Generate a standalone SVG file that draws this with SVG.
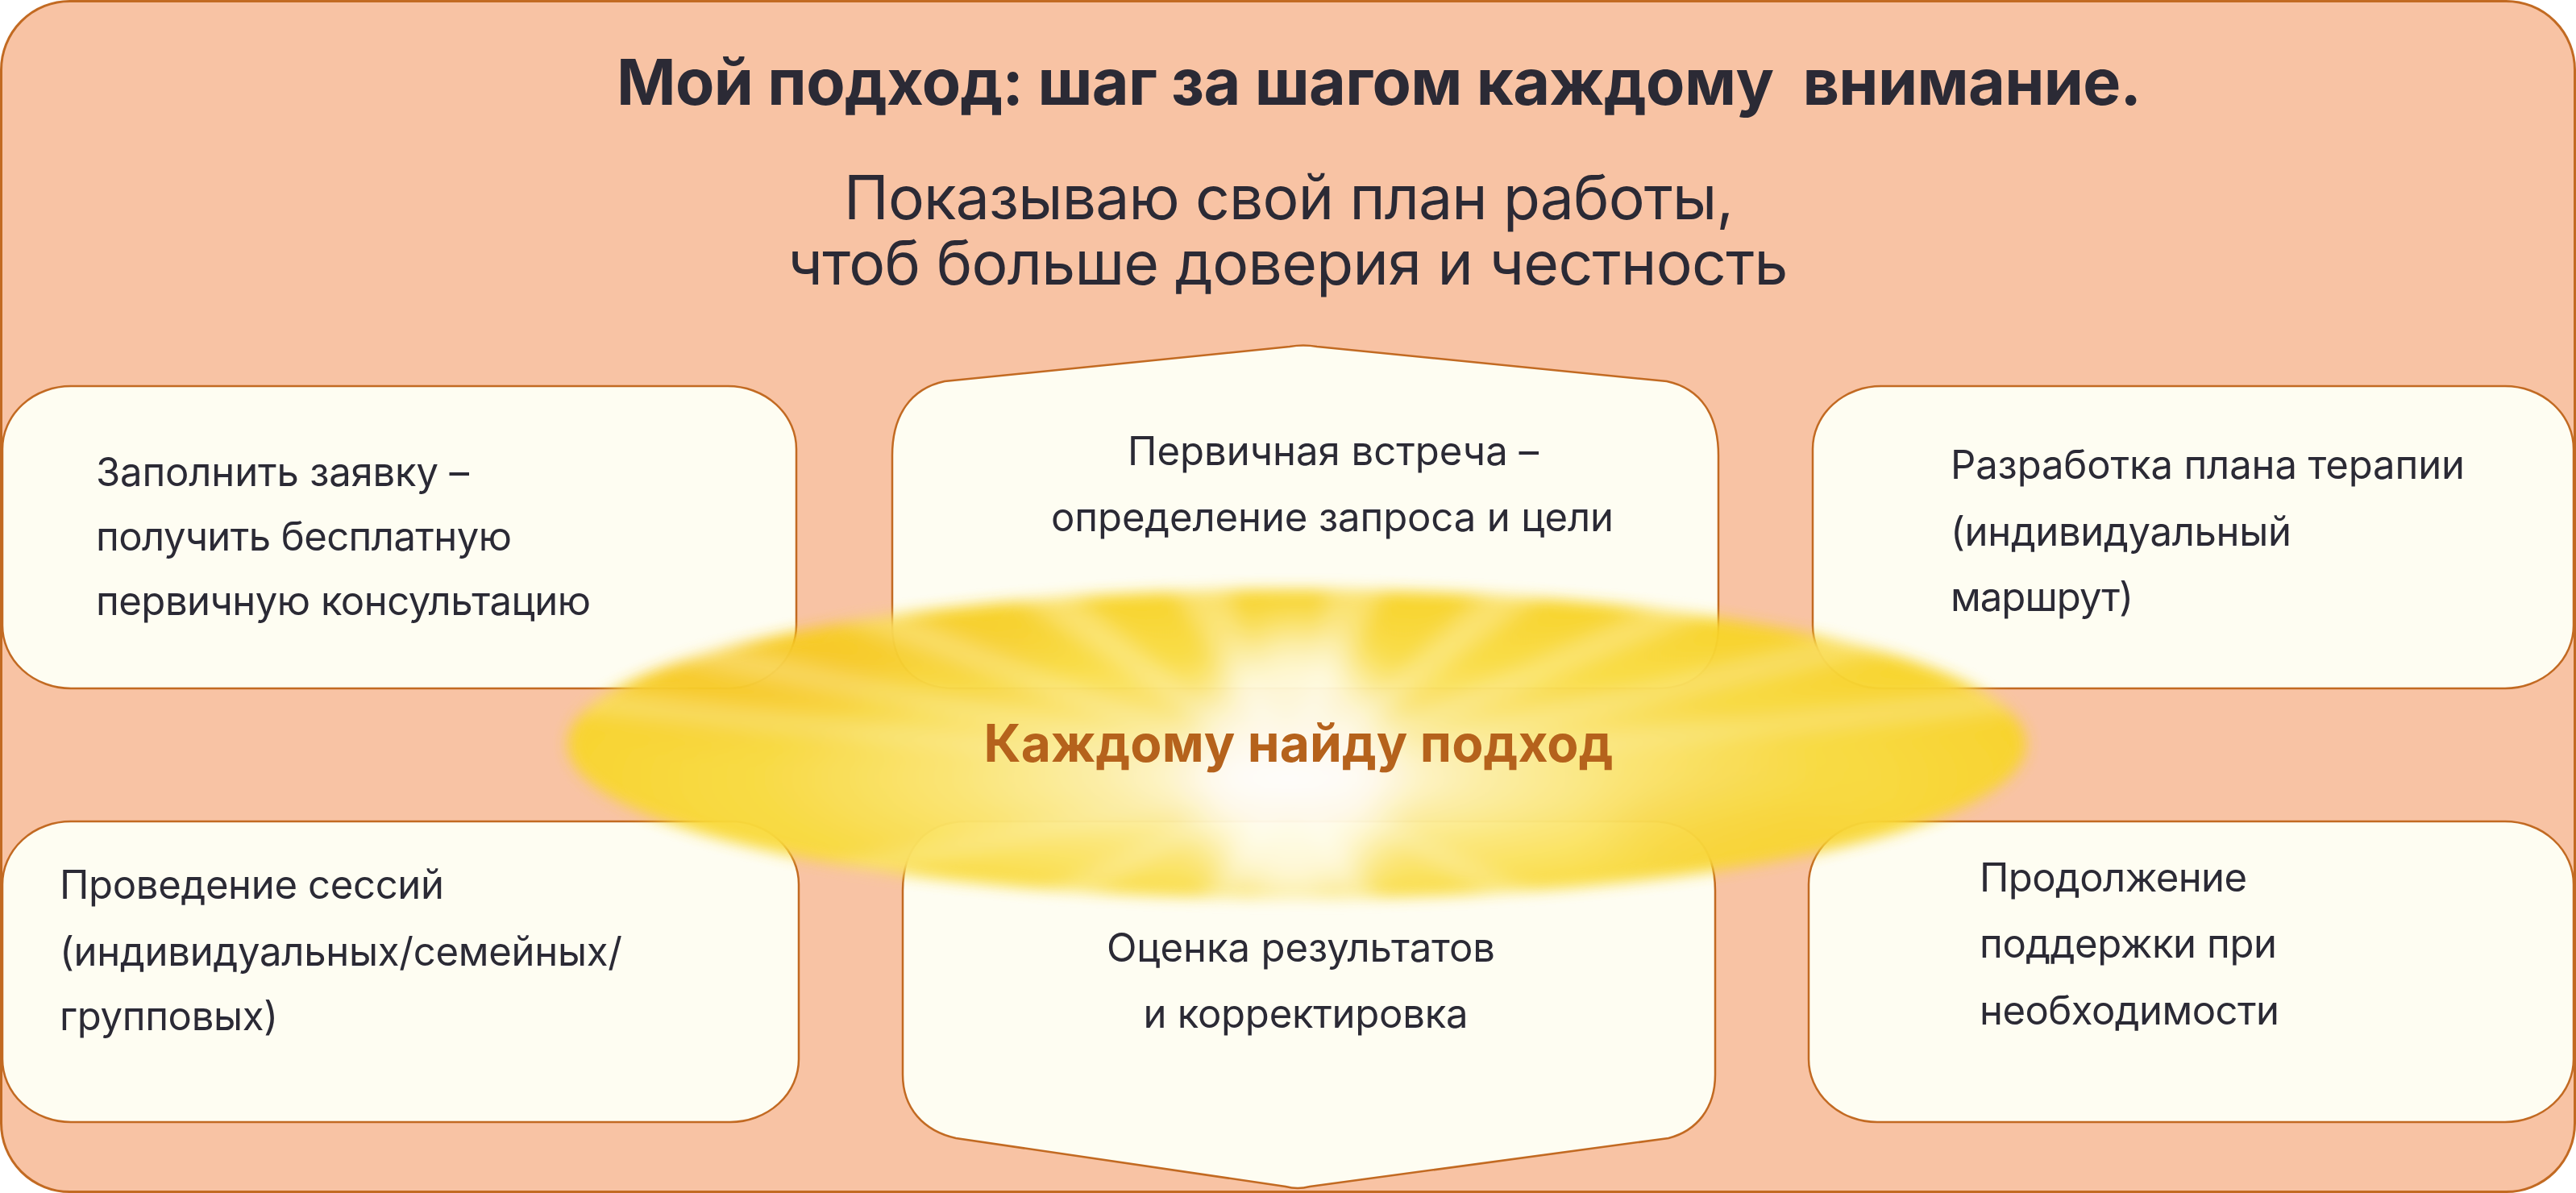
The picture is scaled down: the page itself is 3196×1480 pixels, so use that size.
<svg xmlns="http://www.w3.org/2000/svg" width="3196" height="1480" viewBox="0 0 3196 1480">
  <style>
    .box { fill: #FEFDF2; stroke: #C26A22; stroke-width: 2.5; }
    .txt { font-family: Inter, "Noto Sans", "Liberation Sans", sans-serif; font-size: 49px; fill: #2B2A35; }
    .title { font-family: Inter, "Noto Sans", "Liberation Sans", sans-serif; font-size: 79px; font-weight: 700; fill: #2B2A35; }
    .sub { font-family: Inter, "Noto Sans", "Liberation Sans", sans-serif; font-size: 75px; fill: #2B2A35; }
    .center { font-family: Inter, "Noto Sans", "Liberation Sans", sans-serif; font-size: 64px; font-weight: 700; fill: #B5621C; }
  </style>
  <defs>
    <radialGradient id="sunGrad" cx="1600" cy="965" r="940" gradientUnits="userSpaceOnUse" gradientTransform="translate(1600 965) scale(1 0.23) translate(-1600 -965)">
      <stop offset="0" stop-color="#FFFFFF"/>
      <stop offset="0.08" stop-color="#FFFBE8"/>
      <stop offset="0.25" stop-color="#FDF0A8"/>
      <stop offset="0.45" stop-color="#FBE673"/>
      <stop offset="0.7" stop-color="#F9DC42"/>
      <stop offset="1" stop-color="#F8D42A"/>
    </radialGradient>
    <filter id="blurEdge" x="-10%" y="-40%" width="120%" height="180%">
      <feGaussianBlur stdDeviation="9"/>
    </filter>
    <filter id="blurRay" x="-20%" y="-20%" width="140%" height="140%">
      <feGaussianBlur stdDeviation="10"/>
    </filter>
    <filter id="blurSoft" x="-50%" y="-50%" width="200%" height="200%">
      <feGaussianBlur stdDeviation="28"/>
    </filter>
    <clipPath id="sunClip">
      <ellipse cx="1609" cy="923" rx="905" ry="192"/>
    </clipPath>
  </defs>

  <g id="background">
    <rect x="1.5" y="1.5" width="3193" height="1477" rx="85" ry="85" fill="#F8C3A4" stroke="#C26A22" stroke-width="3"/>
  </g>

  <g id="heading">
    <text class="title" x="1711" y="130" text-anchor="middle" xml:space="preserve" style="white-space:pre" textLength="1892">Мой подход: шаг за шагом каждому  внимание.</text>
    <text class="sub" x="1599" y="272" text-anchor="middle" textLength="1104">Показываю свой план работы,</text>
    <text class="sub" x="1598" y="353" text-anchor="middle" textLength="1241">чтоб больше доверия и честность</text>
  </g>

  <g id="node-1">
    <rect class="box" x="3" y="479" width="985" height="375" rx="85" ry="78"/>
    <text class="txt" x="119" y="603" textLength="463">Заполнить заявку –</text>
    <text class="txt" x="119" y="683" textLength="516">получить бесплатную</text>
    <text class="txt" x="119" y="763" textLength="614">первичную консультацию</text>
  </g>

  <g id="node-2">
    <path class="box" d="M1172,473 L1600,430 Q1617,427 1634,430 L2068,473 C2110,482 2132,515 2132,565 L2132,776 C2132,822 2108,854 2055,854 L1185,854 C1132,854 1107,822 1107,776 L1107,565 C1107,515 1130,482 1172,473 Z"/>
    <text class="txt" x="1654" y="577" text-anchor="middle" textLength="510">Первичная встреча –</text>
    <text class="txt" x="1653" y="659" text-anchor="middle" textLength="698">определение запроса и цели</text>
  </g>

  <g id="node-3">
    <rect class="box" x="2249" y="479" width="944" height="375" rx="85" ry="78"/>
    <text class="txt" x="2420" y="594" textLength="638">Разработка плана терапии</text>
    <text class="txt" x="2420" y="677" textLength="423">(индивидуальный</text>
    <text class="txt" x="2420" y="758" textLength="227">маршрут)</text>
  </g>

  <g id="node-4">
    <rect class="box" x="3" y="1019" width="988" height="373" rx="85" ry="78"/>
    <text class="txt" x="74" y="1115" textLength="477">Проведение сессий</text>
    <text class="txt" x="74" y="1198" textLength="698">(индивидуальных/семейных/</text>
    <text class="txt" x="74" y="1278" textLength="271">групповых)</text>
  </g>

  <g id="node-5">
    <path class="box" d="M1200,1019 L2048,1019 C2100,1019 2128,1052 2128,1105 L2128,1333 C2128,1375 2105,1403 2070,1412 L1625,1472 Q1610,1476 1595,1472 L1186,1412 C1146,1403 1120,1375 1120,1333 L1120,1105 C1120,1052 1148,1019 1200,1019 Z"/>
    <text class="txt" x="1614" y="1193" text-anchor="middle" textLength="482">Оценка результатов</text>
    <text class="txt" x="1620" y="1275" text-anchor="middle" textLength="403">и корректировка</text>
  </g>

  <g id="node-6">
    <rect class="box" x="2244" y="1019" width="949" height="373" rx="85" ry="78"/>
    <text class="txt" x="2456" y="1106" textLength="332">Продолжение</text>
    <text class="txt" x="2456" y="1188" textLength="369">поддержки при</text>
    <text class="txt" x="2456" y="1271" textLength="372">необходимости</text>
  </g>

  <g id="connectors"></g>

  <g id="sun" opacity="0.96">
    <g filter="url(#blurEdge)">
      <ellipse cx="1609" cy="923" rx="905" ry="192" fill="url(#sunGrad)"/>
      <g clip-path="url(#sunClip)">
        <ellipse cx="930" cy="830" rx="170" ry="60" fill="#F6BC1E" opacity="0.45" filter="url(#blurSoft)"/>
        <ellipse cx="1180" cy="800" rx="120" ry="40" fill="#F6C020" opacity="0.35" filter="url(#blurSoft)"/>
        <ellipse cx="2150" cy="1040" rx="150" ry="50" fill="#F7CC25" opacity="0.4" filter="url(#blurSoft)"/>
        <g fill="#FFFFFF" opacity="0.3" filter="url(#blurRay)">
          <polygon points="1600,965 646,875 676,850"/>
          <polygon points="1600,965 757,804 807,782"/>
          <polygon points="1600,965 951,737 1019,721"/>
          <polygon points="1600,965 1185,692 1266,682"/>
          <polygon points="1600,965 1418,670 1504,666"/>
          <polygon points="1600,965 1661,666 1748,668"/>
          <polygon points="1600,965 1901,679 1983,688"/>
          <polygon points="1600,965 2137,712 2209,727"/>
          <polygon points="1600,965 2360,770 2414,791"/>
          <polygon points="1600,965 2524,850 2554,875"/>
          <polygon points="1600,965 2137,1218 2062,1231"/>
          <polygon points="1600,965 1816,1258 1731,1262"/>
          <polygon points="1600,965 1469,1262 1384,1258"/>
          <polygon points="1600,965 1138,1231 1063,1218"/>
          <polygon points="1600,965 807,1148 757,1126"/>
        </g>
        <ellipse cx="1605" cy="955" rx="115" ry="175" fill="#FFFFFF" opacity="0.75" filter="url(#blurSoft)"/>
      </g>
    </g>
  </g>

  <g id="node-center">
    <text class="center" x="1611" y="945" text-anchor="middle" textLength="781">Каждому найду подход</text>
  </g>
</svg>
